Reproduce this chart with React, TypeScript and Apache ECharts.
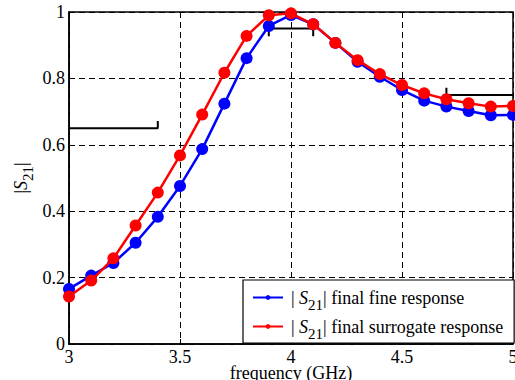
import React, { useEffect, useRef } from "react";
import * as echarts from "echarts";

const freq = [3.0, 3.1, 3.2, 3.3, 3.4, 3.5, 3.6, 3.7, 3.8, 3.9, 4.0, 4.1, 4.2, 4.3, 4.4, 4.5, 4.6, 4.7, 4.8, 4.9, 5.0];
const fineResp = [0.166, 0.206, 0.244, 0.305, 0.383, 0.476, 0.587, 0.724, 0.861, 0.958, 0.991, 0.963, 0.907, 0.85, 0.805, 0.765, 0.733, 0.715, 0.702, 0.689, 0.69];
const surrResp = [0.143, 0.191, 0.258, 0.357, 0.456, 0.568, 0.691, 0.817, 0.928, 0.99, 0.996, 0.963, 0.907, 0.855, 0.813, 0.78, 0.755, 0.737, 0.725, 0.715, 0.717];
const spec1 = [[3.0, 0.65], [3.4, 0.65], [3.4, 0.672]];
const spec2 = [[3.9, 0.927], [3.9, 0.95], [4.1, 0.95], [4.1, 0.927]];
const spec3 = [[4.7, 0.772], [4.7, 0.75], [5.0, 0.75]];
const xTicks = [3, 3.5, 4, 4.5, 5];
const yTicks = [0, 0.2, 0.4, 0.6, 0.8, 1];

const FONT = "Liberation Serif";

export default function App() {
  const ref = useRef<HTMLDivElement>(null);
  useEffect(() => {
    const chart = echarts.init(ref.current!, null, { renderer: "svg" });
    const rich = {
      g: { width: 3, fontSize: 18, lineHeight: 20 },
      n: { fontFamily: FONT, fontSize: 18, color: "#000", lineHeight: 20 },
      i: { fontFamily: FONT, fontSize: 18, fontStyle: "italic", color: "#000", lineHeight: 20 },
      s: { fontFamily: FONT, fontSize: 15, color: "#000", lineHeight: 14, padding: [14, 0, 0, 0] },
    };
    const yRich = {
      n: { fontFamily: FONT, fontSize: 18, color: "#000", lineHeight: 20 },
      i: { fontFamily: FONT, fontSize: 18, fontStyle: "italic", color: "#000", lineHeight: 20 },
      s: { fontFamily: FONT, fontSize: 15, color: "#000", lineHeight: 14, padding: [14, 0, 0, 0] },
    };
    const pair = (a: number[], b: number[]) => a.map((v, k) => [v, b[k]]);
    const specSeries = (d: number[][]) => ({
      type: "line",
      data: d,
      symbol: "none",
      lineStyle: { color: "#000", width: 2 },
      silent: true,
      z: 3,
    });
    chart.setOption({
      animation: false,
      backgroundColor: "#fff",
      grid: {
        left: 69, right: 2, top: 12, bottom: 36,
        containLabel: false,
        outerBoundsMode: "none",
        show: true, borderColor: "#000", borderWidth: 1.5, backgroundColor: "transparent",
      },
      xAxis: {
        type: "value",
        min: 3,
        max: 5,
        interval: 0.5,
        name: "frequency (GHz)",
        nameLocation: "middle",
        nameGap: 20,
        nameMoveOverlap: false,
        nameTextStyle: { fontFamily: FONT, fontSize: 18, color: "#000", lineHeight: 18 },
        axisLine: { lineStyle: { color: "#000", width: 1.5 } },
        axisTick: { inside: true, length: 5, lineStyle: { color: "#000" } },
        axisLabel: { fontFamily: FONT, fontSize: 18, lineHeight: 16, color: "#000", margin: 5, formatter: (v: number) => (xTicks.includes(v) ? String(v) : "") },
        splitLine: { show: true, lineStyle: { color: "#000", type: [6, 4], width: 1 } },
      },
      yAxis: {
        type: "value",
        min: 0,
        max: 1,
        interval: 0.2,
        name: "{n||}{i|S}{s|21}{n||}",
        nameLocation: "middle",
        nameGap: 38,
        nameMoveOverlap: false,
        nameRotate: 90,
        nameTextStyle: { rich: yRich },
        axisLine: { show: true, lineStyle: { color: "#000", width: 1.5 } },
        axisTick: { show: true, inside: true, length: 5, lineStyle: { color: "#000" } },
        axisLabel: { fontFamily: FONT, fontSize: 18, color: "#000", margin: 4, formatter: (v: number) => { const t = yTicks.find((y) => Math.abs(y - v) < 1e-9); return t === undefined ? "" : String(+t.toFixed(1)); } },
        splitLine: { show: true, lineStyle: { color: "#000", type: [6, 4], width: 1 } },
      },
      legend: {
        orient: "vertical",
        left: 243,
        top: 280,
        padding: [3, 11, 2, 9],
        itemGap: 0,
        itemWidth: 30,
        itemHeight: 6,
        backgroundColor: "#fff",
        borderColor: "#000",
        borderWidth: 1.2,
        borderRadius: 0,
        data: ["fine", "surr"],
        formatter: (name: string) =>
          name === "fine"
            ? "{g|}{n|| }{i|S}{s|21}{n|| final fine response}"
            : "{g|}{n|| }{i|S}{s|21}{n|| final surrogate response}",
        textStyle: { rich, fontFamily: FONT, fontSize: 18, color: "#000" },
      },
      series: [
        specSeries(spec1),
        specSeries(spec2),
        specSeries(spec3),
        {
          name: "fine",
          type: "line",
          data: pair(freq, fineResp),
          symbol: "circle",
          symbolSize: 12,
          color: "#0000ff",
          lineStyle: { color: "#0000ff", width: 2.5 },
          itemStyle: { color: "#0000ff" },
          z: 4,
        },
        {
          name: "surr",
          type: "line",
          data: pair(freq, surrResp),
          symbol: "circle",
          symbolSize: 12,
          color: "#ff0000",
          lineStyle: { color: "#ff0000", width: 2.5 },
          itemStyle: { color: "#ff0000" },
          z: 5,
        },
      ],
    });
    return () => chart.dispose();
  }, []);
  return <div ref={ref} style={{ width: 515, height: 380, position: "absolute", left: 0, top: 0 }} />;
}
